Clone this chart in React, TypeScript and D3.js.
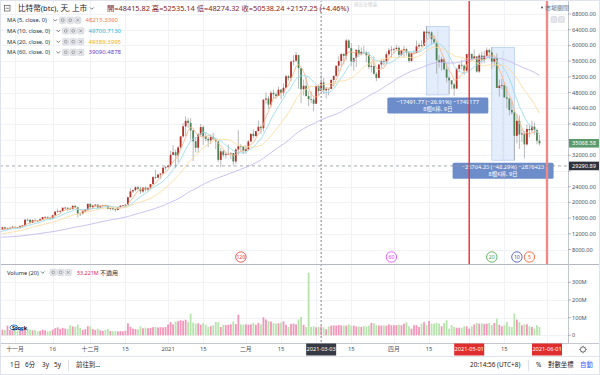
import React from "react";
import * as d3 from "d3";

const W = 600;
const H = 375;
const FONT = "'Noto Sans', 'Noto Sans CJK TC', sans-serif";

// daily closes before the visible window (needed for the moving averages), 2020-08-28 .. 2020-10-26
const warmupStart = "2020-08-28";
const warmupCloses = [
  11542, 11507, 11681, 11680,
  11970, 11414, 10245, 10512, 10169, 10280, 10369, 10131, 10242, 10364, 10400, 10443, 10324, 10681, 10797,
  10974, 10948, 10944, 11094, 10938, 10463, 10539, 10246, 10760, 10692, 10751, 10776, 10709, 10845, 10785,
  10620, 10570, 10550, 10670, 10788, 10604, 10668, 10915, 11065, 11296, 11385, 11555, 11426, 11430, 11506,
  11323, 11369, 11516, 11754, 11917, 12824, 12966, 12931, 13108, 13031, 13076,
];

// visible candles, 2020-10-27 .. 2021-05-29
const firstDay = "2020-10-27";
const closes = [
  13654, 13272, 13437, 13546, 13781,
  13737, 13550, 14029, 14133, 15579, 15565, 14833, 15479, 15332, 15299, 15701, 16276, 16317, 16068, 15955,
  16716, 17645, 17804, 17817, 18621, 18642, 18370, 18365, 19107, 18733, 17150, 17109, 17718, 18177, 19625,
  18802, 19201, 19445, 18699, 19155, 19345, 19192, 18321, 18554, 18265, 18059, 18804, 19142, 19246, 19418,
  21310, 22805, 23137, 23869, 23477, 22803, 23783, 23241, 23735, 24665, 26437, 26273, 27084, 27362, 28841, 29002,
  29374, 32127, 32782, 31971, 33992, 36824, 39371, 40797, 40254, 38356, 35567, 33923, 37316, 39188, 36825,
  36179, 35792, 36631, 36070, 35548, 30826, 33006, 32068, 32289, 32367, 32570, 30432, 33467, 34317, 34270, 33115,
  33538, 35510, 37473, 36926, 38144, 39266, 38903, 46196, 46481, 44918, 47909, 47504, 47105, 48717, 47945,
  49199, 52149, 51679, 55888, 56100, 57539, 54207, 48825, 49705, 47093, 46339, 46188, 45138,
  49631, 48379, 50538, 48561, 48927, 48912, 51206, 52246, 54824, 56008, 57805, 57333, 61243, 59303, 55907,
  56804, 58870, 57858, 58346, 58313, 57523, 54529, 54738, 52775, 51704, 55137, 55974, 55948, 57750, 58746, 58918,
  59095, 59384, 57604, 58758, 59057, 58193, 56049, 58091, 58094, 59756, 60080, 59861, 63504, 63110, 63314,
  61572, 60684, 56216, 55724, 56473, 53907, 51762, 51094, 50051, 49004, 54022, 55034, 54824, 53555, 57750,
  57828, 56631, 57201, 53333, 57425, 56397, 57356, 58803, 58232, 55859, 56704, 49150, 49716, 49880, 46761,
  46457, 43538, 42910, 36964, 40785, 37305, 37536, 34770, 38705, 38402, 39294, 38437, 35698, 35069,
];
const highs = [
  13790, 13837, 13612, 13652, 14028,
  13862, 13809, 14060, 14220, 15737, 15913, 15771, 15645, 15785, 15450, 15950, 16320, 16464, 16317, 16123,
  16820, 17785, 18393, 18107, 18760, 18936, 18692, 18748, 19348, 19390, 18915, 17457, 17854, 18283, 19750,
  19845, 19308, 19566, 19511, 19160, 19390, 19389, 19283, 18626, 18553, 18268, 18919, 19381, 19305, 19525,
  21458, 23642, 23238, 24085, 24209, 24059, 23789, 24024, 23768, 24712, 26718, 28288, 27389, 27370, 28937, 29244,
  29601, 33155, 34608, 33441, 34437, 36879, 40180, 41946, 41436, 41420, 38346, 36568, 37599, 39967, 39577,
  37864, 36722, 37299, 37755, 36378, 35552, 33811, 33360, 32944, 34802, 32794, 32557, 33783, 38406, 34834, 34288,
  34638, 35897, 37480, 38592, 38225, 40846, 39621, 46204, 48004, 47145, 48463, 48745, 48047, 49487, 48875,
  50341, 52533, 52474, 56113, 57505, 58330, 57533, 54204, 51290, 52041, 48370, 48253, 46716,
  49784, 50127, 52535, 51735, 49396, 49147, 51384, 52314, 54824, 57258, 58012, 58012, 61683, 61597, 60602,
  56834, 58970, 60048, 59468, 59880, 58605, 58421, 55839, 57200, 53229, 55137, 56568, 56610, 58342, 59369, 59800,
  59469, 60110, 59792, 58913, 59891, 59446, 58563, 58152, 58870, 61217, 60681, 61253, 63743, 64863, 63822,
  63595, 62573, 61057, 57521, 57041, 56761, 55411, 52131, 51167, 50506, 54288, 55416, 56227, 55115, 57900,
  58448, 57912, 58973, 57146, 57971, 58363, 58606, 59464, 59210, 59519, 56872, 57939, 51330, 51438, 50639,
  49557, 46545, 45812, 43547, 42462, 42171, 38776, 38228, 39835, 39791, 40782, 40379, 38856, 37234,
];
const lows = [
  13080, 12932, 12980, 13136, 13576,
  13628, 13243, 13294, 13525, 14095, 15272, 14423, 14738, 14863, 15092, 15283, 15480, 15993, 15762, 15798,
  15873, 16545, 17352, 17364, 17815, 18444, 17719, 18051, 18145, 18565, 16188, 16526, 16910, 17559, 18178,
  18321, 18347, 18925, 18697, 18590, 18897, 18924, 18268, 17935, 17957, 17619, 18046, 18735, 19012, 19079,
  19298, 21234, 22399, 22826, 23147, 22159, 22430, 22802, 22777, 23463, 24522, 25922, 26207, 25987, 27360, 28202,
  28804, 29091, 32052, 28722, 30221, 33514, 36491, 36838, 38981, 35984, 30549, 32697, 32584, 36868, 34659,
  35633, 34069, 34883, 36069, 33570, 30250, 28953, 31493, 31107, 32088, 31030, 29367, 29842, 32064, 32940, 32270,
  32384, 33489, 35444, 36317, 36658, 38138, 37446, 38076, 45166, 43881, 44187, 46424, 46392, 47114, 46347,
  47201, 49072, 51015, 50937, 54895, 55672, 48967, 45290, 47214, 46985, 44454, 45269, 43241,
  45115, 47228, 48274, 47656, 46542, 47257, 48918, 49506, 51981, 53290, 54617, 55256, 56217, 59302, 54654,
  53555, 54528, 57023, 57510, 57820, 55705, 53971, 53101, 52549, 50856, 51638, 54242, 54822, 55139, 57186, 56873,
  57950, 58869, 56965, 57169, 56867, 57410, 55604, 55738, 57719, 58055, 59047, 59589, 59869, 61555, 62208,
  60222, 60361, 52829, 54368, 53537, 53695, 50583, 47714, 48805, 47159, 48852, 53319, 53887, 52418, 53129,
  57052, 56141, 56590, 53057, 52970, 55383, 55439, 56975, 56482, 54071, 54608, 49150, 46980, 48868, 46664,
  43963, 42201, 42367, 30681, 35050, 33616, 35383, 31192, 34551, 36581, 37868, 37247, 34779, 34500,
];
// volume, in millions
const volumes = [
  32, 30, 55, 30, 28,
  30, 28, 33, 35, 45, 38, 32, 28, 30, 22, 25, 32, 28, 22, 24, 32, 40, 45, 36, 42, 38, 35, 57, 50, 48, 60, 42, 30, 35, 51,
  51, 35, 30, 38, 28, 25, 30, 36, 24, 22, 24, 22, 24, 22, 26, 68, 48, 38, 36, 34, 51, 40, 44, 40, 42, 46, 48, 44, 46, 45, 47,
  62, 75, 62, 78, 80, 85, 82, 88, 75, 123, 72, 66, 68, 60, 70, 60, 47, 52, 57, 75, 75, 47, 60, 58, 60, 62, 79, 64, 117, 62, 60,
  62, 60, 62, 70, 60, 70, 62, 102, 90, 80, 78, 68, 66, 68, 72, 79, 60, 47, 64, 66, 62, 90, 104, 60, 47, 354, 47, 51,
  45, 48, 51, 45, 34, 50, 55, 56, 55, 58, 56, 55, 55, 62, 55, 55, 50, 50, 48, 52, 50, 55, 70, 68, 58, 55, 55, 56, 55, 62, 57,
  57, 57, 60, 57, 66, 74, 51, 38, 57, 57, 47, 66, 74, 57, 81, 66, 66, 70, 66, 51, 70, 85, 38, 57, 47, 43, 43, 43, 51, 51,
  38, 51, 62, 70, 66, 68, 64, 66, 70, 57, 70, 94, 60, 51, 57, 75, 50, 47, 123, 89, 75, 57, 62, 62, 51, 47, 38, 57, 47,
];

const maPeriods = [5, 10, 20, 60];
const maLineColors = ["#f9b489", "#9adcec", "#fcdca4", "#c6b9ec"];
const maLegendLabels = ["MA (5, close, 0)", "MA (10, close, 0)", "MA (20, close, 0)", "MA (60, close, 0)"];
const maLegendValues = ["48215.3360", "49700.7130", "49389.3995", "39090.4878"];
const maLegendColors = ["#f47c3c", "#2bb3d3", "#f0b225", "#6b42c9"];

const priceTicks = [8000, 12000, 16000, 20000, 24000, 28000, 32000, 36000, 40000, 44000, 48000, 52000, 56000, 60000, 64000, 68000];
const volumeTicks = [0, 100, 200, 300];
const volumeTickLabels = ["0", "100M", "200M", "300M"];
const timeTickDates = ["2020-11-01", "2020-11-16", "2020-12-01", "2020-12-15", "2021-01-01", "2021-01-15", "2021-02-01", "2021-02-15", "2021-03-15", "2021-04-01", "2021-04-15", "2021-05-15"];
const timeTickLabels = ["十一月", "16", "十二月", "15", "2021", "15", "二月", "15", "15", "四月", "15", "15"];
const extraGridDates = ["2021-03-01", "2021-05-01", "2021-06-01"];

const redLineDates = ["2021-05-01", "2021-06-01"];
const crosshairDate = "2021-03-03";
const crosshairPrice = 29290.89;
const lastPrice = 35068.58;

const measureFrom = ["2021-04-14", "2021-05-10"];
const measureTo = ["2021-04-23", "2021-05-19"];
const measureHigh = [64863, 59519];
const measureLow = [47371, 30755];
const measureLine1 = ["−17491.77 (−26.91%) −1749177", "−28764.25 (−48.29%) −2876425"];
const measureLine2 = ["8根K棒, 9日", "8根K棒, 9日"];

const countLabels = ["120", "60", "20", "10", "5"];
const countBack = [119, 59, 19, 9, 4];
const countColors = ["#e53935", "#e040fb", "#43a047", "#3949ab", "#f4511e"];

const parse = d3.utcParse("%Y-%m-%d");
const UP = "#b0322a";
const DOWN = "#4e8557";

function Icons({ x, y }: { x: number; y: number }) {
  return (
    <g>
      {[0, 7.5, 15].map((dx, k) => (
        <g key={k}>
          <rect x={x + dx} y={y - 3.3} width={6.4} height={6.4} rx={1} fill="#e4e6eb" stroke="#c9ccd3" strokeWidth={0.5} />
          {k === 2 ? (
            <path d={`M${x + dx + 1.8},${y - 1.5}l2.8,2.8M${x + dx + 4.6},${y - 1.5}l-2.8,2.8`} stroke="#777" strokeWidth={0.6} />
          ) : (
            <circle cx={x + dx + 3.2} cy={y - 0.1} r={1.4} fill="none" stroke="#777" strokeWidth={0.6} />
          )}
        </g>
      ))}
    </g>
  );
}

function Chevron({ x, y }: { x: number; y: number }) {
  return <path d={`M${x},${y - 1}l1.8,1.8l1.8,-1.8`} fill="none" stroke="#444" strokeWidth={0.7} />;
}

export default function App() {
  const x = d3.scaleUtc().domain([parse("2020-11-01")!, parse("2021-06-01")!]).range([15, 547]);
  const y = d3.scaleLinear().domain([8000, 68000]).range([249.5, 14]);
  const yVol = d3.scaleLinear().domain([0, 300]).range([335.3, 282.3]);

  const start = parse(firstDay)!;
  const wStart = parse(warmupStart)!;
  const bars = closes.map((c, i) => {
    const o = i === 0 ? warmupCloses[warmupCloses.length - 1] : closes[i - 1];
    return {
      date: d3.utcDay.offset(start, i),
      o,
      c,
      h: Math.max(highs[i], o, c),
      l: Math.min(lows[i], o, c),
      v: volumes[i],
    };
  });

  const allCloses = warmupCloses.concat(closes);
  const allDates = allCloses.map((_, i) => d3.utcDay.offset(wStart, i));
  const maSeries = maPeriods.map((p) =>
    allCloses
      .map((_, i) => (i < p - 1 ? null : { date: allDates[i], v: d3.mean(allCloses.slice(i - p + 1, i + 1))! }))
      .filter((d) => d !== null) as { date: Date; v: number }[]
  );
  const line = d3.line<{ date: Date; v: number }>().x((d) => x(d.date)).y((d) => y(d.v));

  const bw = 1.8;
  const priceRight = 568;
  const paneBottom = 264;
  const volTop = 265;
  const axisTop = 343;

  const gridDates = timeTickDates.concat(extraGridDates).map((s) => parse(s)!);
  // axis labels hidden behind the price boxes
  const shownTicks = priceTicks.filter(
    (t) => Math.abs(y(t) - y(lastPrice)) > 7 && Math.abs(y(t) - y(crosshairPrice)) > 7
  );

  return (
    <div style={{ position: "fixed", left: 0, top: 0, width: W, height: H, background: "#fff" }}>
      <svg width={W} height={H} style={{ display: "block", fontFamily: FONT }}>
        <defs>
          <clipPath id="pricePane">
            <rect x={0} y={0} width={priceRight} height={paneBottom} />
          </clipPath>
          <clipPath id="volPane">
            <rect x={0} y={volTop} width={priceRight} height={axisTop - volTop} />
          </clipPath>
        </defs>
        <rect x={0} y={0} width={W} height={H} fill="#fff" />

        {/* grid */}
        <g stroke="#f0f2f6" strokeWidth={1}>
          {priceTicks.map((t) => (
            <line key={t} x1={0} x2={priceRight} y1={Math.round(y(t)) + 0.5} y2={Math.round(y(t)) + 0.5} />
          ))}
          {volumeTicks.map((t) => (
            <line key={"v" + t} x1={0} x2={priceRight} y1={Math.round(yVol(t)) + 0.5} y2={Math.round(yVol(t)) + 0.5} />
          ))}
          {gridDates.map((d, i) => (
            <line key={"g" + i} x1={Math.round(x(d)) + 0.5} x2={Math.round(x(d)) + 0.5} y1={0} y2={axisTop} />
          ))}
        </g>

        {/* measurement boxes */}
        {measureFrom.map((f, i) => {
          const x0 = x(parse(f)!);
          const x1 = x(parse(measureTo[i])!);
          const y0 = y(measureHigh[i]);
          const y1 = y(measureLow[i]);
          return (
            <g key={"m" + i}>
              <rect x={x0} y={y0} width={x1 - x0} height={y1 - y0} fill="#dbe7fa" fillOpacity={0.75} stroke="#a9c3ec" strokeWidth={0.6} />
              <line x1={(x0 + x1) / 2} x2={(x0 + x1) / 2} y1={y0 + 4} y2={y1} stroke="#9fb6dc" strokeWidth={0.6} strokeDasharray="1,1" />
            </g>
          );
        })}

        {/* candles */}
        <g clipPath="url(#pricePane)">
          {bars.map((b, i) => {
            const cx = x(b.date);
            const up = b.c >= b.o;
            const top = y(Math.max(b.o, b.c));
            const hgt = Math.max(0.7, Math.abs(y(b.o) - y(b.c)));
            return (
              <g key={i}>
                <line x1={cx} x2={cx} y1={y(b.h)} y2={y(b.l)} stroke="#9c9c9c" strokeWidth={0.7} />
                <rect x={cx - bw / 2} y={top} width={bw} height={hgt} fill={up ? UP : DOWN} />
              </g>
            );
          })}
          {maSeries.map((s, k) => (
            <path key={"ma" + k} d={line(s) || ""} fill="none" stroke={maLineColors[k]} strokeWidth={0.9} />
          ))}
        </g>

        {/* measurement labels */}
        {measureFrom.map((f, i) => {
          const cx = (x(parse(f)!) + x(parse(measureTo[i])!)) / 2;
          const y1 = y(measureLow[i]) + 2.5;
          return (
            <g key={"ml" + i}>
              <rect x={cx - 50.5} y={y1} width={101} height={16} rx={1.5} fill="#6d8dca" />
              <text x={cx} y={y1 + 6.8} fill="#fff" fontSize={5.7} textAnchor="middle">{measureLine1[i]}</text>
              <text x={cx} y={y1 + 13.6} fill="#fff" fontSize={5.5} textAnchor="middle">{measureLine2[i]}</text>
            </g>
          );
        })}

        {/* volume */}
        <g clipPath="url(#volPane)">
          {bars.map((b, i) => (
            <rect key={"vb" + i} x={x(b.date) - bw / 2} y={yVol(b.v)} width={bw} height={yVol(0) - yVol(b.v)} fill={b.c >= b.o ? "#f396ba" : "#b7e4ac"} />
          ))}
        </g>

        {/* red vertical lines */}
        <line x1={x(parse(redLineDates[0])!)} x2={x(parse(redLineDates[0])!)} y1={0} y2={paneBottom} stroke="#f02d2d" strokeWidth={1.4} />
        <line x1={x(parse(redLineDates[1])!)} x2={x(parse(redLineDates[1])!)} y1={0} y2={paneBottom} stroke="#f08a86" strokeWidth={2.4} />

        {/* crosshair */}
        <line x1={x(parse(crosshairDate)!)} x2={x(parse(crosshairDate)!)} y1={0} y2={axisTop} stroke="#a3a6ae" strokeWidth={1.4} strokeDasharray="2,2" />
        <line x1={0} x2={priceRight} y1={y(crosshairPrice)} y2={y(crosshairPrice)} stroke="#8f939c" strokeWidth={0.8} strokeDasharray="3,3" />

        {/* bar count markers */}
        {countLabels.map((lab, k) => {
          const b = bars[bars.length - 1 - countBack[k]];
          const cx = x(b.date);
          return (
            <g key={"c" + k}>
              <circle cx={cx} cy={257} r={5.2} fill="#fff" stroke={countColors[k]} strokeWidth={0.8} />
              <text x={cx} y={259} fontSize={5.2} fill={countColors[k]} textAnchor="middle">{lab}</text>
            </g>
          );
        })}

        {/* pane borders */}
        <line x1={0} x2={W} y1={paneBottom + 0.5} y2={paneBottom + 0.5} stroke="#b4b7bf" strokeWidth={1} />
        <line x1={priceRight + 0.5} x2={priceRight + 0.5} y1={0} y2={axisTop} stroke="#c4c7ce" strokeWidth={1} />
        <line x1={0} x2={W} y1={axisTop + 0.5} y2={axisTop + 0.5} stroke="#c4c7ce" strokeWidth={1} />
        <line x1={0} x2={W} y1={356.5} y2={356.5} stroke="#e0e3eb" strokeWidth={1} />
        <rect x={0.5} y={0.5} width={W - 1} height={H - 1} fill="none" stroke="#e0e3eb" />

        {/* price axis */}
        <g fontSize={5.6} fill="#4a4e58">
          {priceTicks.map((t) => (
            <line key={"pl" + t} x1={priceRight} x2={priceRight + 3} y1={y(t)} y2={y(t)} stroke="#8a8e97" strokeWidth={0.6} />
          ))}
          {shownTicks.map((t) => (
            <text key={"pt" + t} x={572} y={y(t) + 2}>{d3.format(".2f")(t)}</text>
          ))}
          {volumeTicks.map((t, k) => (
            <g key={"vt" + t}>
              <line x1={priceRight} x2={priceRight + 3} y1={yVol(t)} y2={yVol(t)} stroke="#8a8e97" strokeWidth={0.6} />
              <text x={572} y={yVol(t) + 2}>{volumeTickLabels[k]}</text>
            </g>
          ))}
        </g>
        <rect x={569} y={y(lastPrice) - 4.3} width={30} height={8.6} fill="#5a9a6b" />
        <text x={572} y={y(lastPrice) + 2} fontSize={5.6} fill="#fff">{d3.format(".2f")(lastPrice)}</text>
        <rect x={569} y={y(crosshairPrice) - 4.3} width={30} height={8.6} fill="#2f323c" />
        <text x={572} y={y(crosshairPrice) + 2} fontSize={5.6} fill="#fff">{d3.format(".2f")(crosshairPrice)}</text>

        {/* time axis */}
        <g fontSize={5.8} fill="#4a4e58" textAnchor="middle">
          {timeTickDates.map((s, k) => (
            <text key={"tt" + k} x={x(parse(s)!)} y={351.2}>{timeTickLabels[k]}</text>
          ))}
        </g>
        {[crosshairDate, redLineDates[0], redLineDates[1]].map((s, k) => {
          const cx = x(parse(s)!);
          return (
            <g key={"tb" + k}>
              <rect x={cx - 15} y={343.5} width={30} height={12} fill={k === 0 ? "#363a45" : "#e02d2d"} />
              <text x={cx} y={351.3} fontSize={5.6} fill="#fff" textAnchor="middle">{s}</text>
            </g>
          );
        })}
        <g transform="translate(583,349.5)" stroke="#555" strokeWidth={0.8} fill="none">
          <circle r={2.6} />
          {d3.range(8).map((k) => (
            <line key={k} x1={Math.cos((k * Math.PI) / 4) * 2.6} y1={Math.sin((k * Math.PI) / 4) * 2.6} x2={Math.cos((k * Math.PI) / 4) * 3.8} y2={Math.sin((k * Math.PI) / 4) * 3.8} />
          ))}
        </g>

        {/* legend */}
        <rect x={4.5} y={5.5} width={5.5} height={5.5} fill="none" stroke="#555" strokeWidth={0.7} />
        <line x1={5.5} x2={9} y1={8.25} y2={8.25} stroke="#555" strokeWidth={0.7} />
        <text x={18} y={11} fontSize={7.6} fill="#1d2029">比特幣(btc), 天, 上市</text>
        <Chevron x={90} y={8.5} />
        <text x={107} y={11} fontSize={7.35} fill="#862222">開=48415.82 高=52535.14 低=48274.32 收=50538.24 +2157.25 (+4.46%)</text>
        <text x={354} y={5.5} fontSize={4.6} fill="#cdd0d6">退出全螢幕</text>
        {maLegendLabels.map((lab, k) => {
          const cy = 20.3 + k * 10.7;
          const iconX = k === 0 ? 59.5 : 62.5;
          return (
            <g key={"lg" + k}>
              <text x={7} y={cy + 2} fontSize={5.7} fill="#2a2e39">{lab}</text>
              <Chevron x={iconX - 6} y={cy} />
              <Icons x={iconX} y={cy} />
              <text x={iconX + 26} y={cy + 2} fontSize={6} fill={maLegendColors[k]}>{maLegendValues[k]}</text>
            </g>
          );
        })}
        <circle cx={542} cy={7.5} r={1} fill="#555" />
        <text x={545} y={9.5} fontSize={6} fill="#6a6d78">市場關閉</text>
        <rect x={551} y={16.5} width={6} height={6} rx={1} fill="#e4e6eb" stroke="#c9ccd3" strokeWidth={0.5} />
        <rect x={558.5} y={16.5} width={6} height={6} rx={1} fill="#e4e6eb" stroke="#c9ccd3" strokeWidth={0.5} />

        <text x={7} y={274.5} fontSize={5.7} fill="#2a2e39">Volume (20)</text>
        <Chevron x={41} y={272.5} />
        <Icons x={50} y={272.5} />
        <text x={77} y={274.7} fontSize={5.4} fill="#e3245a">53.221M</text>
        <text x={100} y={274.7} fontSize={6} fill="#2a2e39">不適用</text>

        <ellipse cx={14} cy={327.5} rx={4} ry={2.5} fill="none" stroke="#1e7be0" strokeWidth={0.9} />
        <text x={12} y={329.5} fontSize={5.5} fontWeight="bold" fill="#111">Stock</text>
        <rect x={20.5} y={328} width={2.5} height={2.5} fill="none" stroke="#1e7be0" strokeWidth={0.6} />

        {/* toolbar */}
        <g fontSize={6.4} fill="#1d2029">
          <text x={10} y={366.5}>1日</text>
          <text x={25} y={366.5}>6分</text>
          <text x={42} y={366.5}>3y</text>
          <text x={54} y={366.5}>5y</text>
          <text x={76} y={366.5}>前往到...</text>
          <text x={470} y={366.5}>20:14:56 (UTC+8)</text>
          <text x={536} y={366.5}>%</text>
          <text x={548} y={366.5}>對數坐標</text>
          <text x={580} y={366.5} fill="#2962ff">自動</text>
        </g>
        <line x1={68.5} x2={68.5} y1={360} y2={371} stroke="#e0e3eb" />
        <line x1={528.5} x2={528.5} y1={360} y2={371} stroke="#e0e3eb" />
      </svg>
    </div>
  );
}
